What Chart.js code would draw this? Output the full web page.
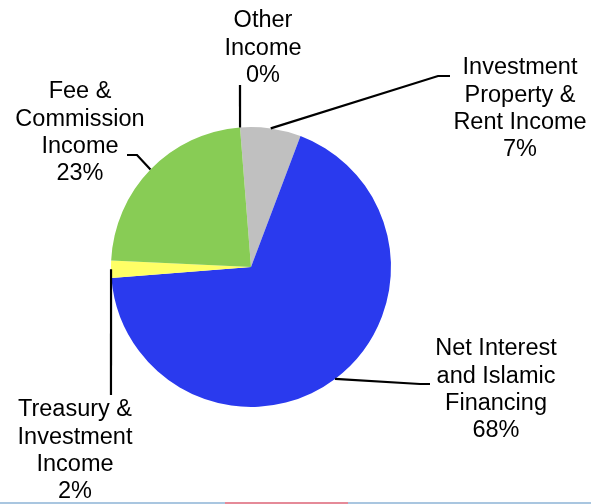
<!DOCTYPE html>
<html>
<head>
<meta charset="utf-8">
<script src="https://cdn.jsdelivr.net/npm/chart.js@4/dist/chart.umd.min.js"></script>
<style>
  body { margin: 0; background: #fff; }
  canvas { display: block; }
</style>
</head>
<body>
<canvas id="income-pie" width="591" height="504"></canvas>
<script>
var categories = [
  ["Other", "Income"],
  ["Investment", "Property &", "Rent Income"],
  ["Net Interest", "and Islamic", "Financing"],
  ["Treasury &", "Investment", "Income"],
  ["Fee &", "Commission", "Income"]
];
var shares = [0, 7, 68, 2, 23];
var sliceColors = ["#c0c0c0", "#c0c0c0", "#2a3aee", "#ffff66", "#88cc55"];

// where each label block sits and how its leader line runs out from the slice
var labelLayout = [
  { x: 263, y: 21,  path: [[240, 85]] },
  { x: 520, y: 68,  path: [[438, 76], [450, 76]] },
  { x: 496, y: 349, path: [[420, 384], [430, 384]] },
  { x: 75,  y: 410, path: [[111, 395]] },
  { x: 80,  y: 92,  path: [[137, 155], [127, 155]] }
];

var calloutLabels = {
  id: 'calloutLabels',
  afterDatasetsDraw: function(chart) {
    var ctx = chart.ctx;
    var arcs = chart.getDatasetMeta(0).data;
    ctx.save();
    ctx.strokeStyle = '#000';
    ctx.lineWidth = 2.2;
    arcs.forEach(function(arc, i) {
      var p = arc.getProps(['x', 'y', 'startAngle', 'endAngle', 'outerRadius'], true);
      var mid = (p.startAngle + p.endAngle) / 2;
      var ax = p.x + Math.cos(mid) * p.outerRadius;
      var ay = p.y + Math.sin(mid) * p.outerRadius;
      ctx.beginPath();
      ctx.moveTo(ax, ay);
      labelLayout[i].path.forEach(function(pt) { ctx.lineTo(pt[0], pt[1]); });
      ctx.stroke();

      var lines = categories[i].concat([shares[i] + '%']);
      ctx.fillStyle = '#000';
      ctx.font = '23.5px "Liberation Sans", Arial, sans-serif';
      ctx.textAlign = 'center';
      ctx.textBaseline = 'middle';
      lines.forEach(function(t, k) {
        ctx.fillText(t, labelLayout[i].x, labelLayout[i].y + k * 27.3);
      });
    });

    // thin frame line along the bottom edge
    ctx.lineWidth = 2;
    ctx.strokeStyle = '#a9c6e0';
    ctx.beginPath();
    ctx.moveTo(0, 503); ctx.lineTo(591, 503);
    ctx.stroke();
    ctx.strokeStyle = '#e58a98';
    ctx.beginPath();
    ctx.moveTo(225, 503); ctx.lineTo(348, 503);
    ctx.stroke();
    ctx.restore();
  }
};

var ctx = document.getElementById('income-pie');
var incomePie = new Chart(ctx, {
  type: 'pie',
  data: {
    labels: categories.map(function(c) { return c.join(' '); }),
    datasets: [{
      data: shares,
      backgroundColor: sliceColors,
      borderWidth: 0
    }]
  },
  options: {
    responsive: false,
    animation: false,
    rotation: -4.5,
    layout: { padding: { left: 111, right: 200, top: 127, bottom: 97 } },
    plugins: {
      legend: { display: false },
      tooltip: { enabled: false }
    }
  },
  plugins: [calloutLabels]
});
</script>
</body>
</html>
